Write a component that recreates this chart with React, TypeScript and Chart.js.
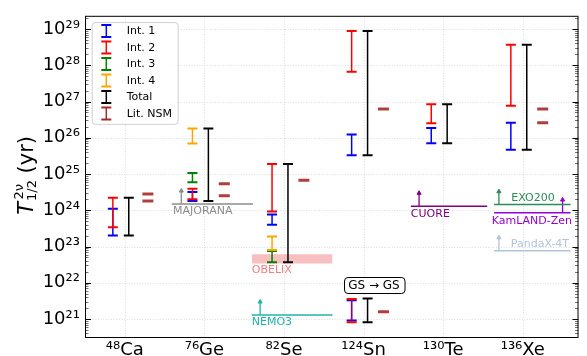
import React, { useEffect, useRef } from 'react';
import { Chart, registerables } from 'chart.js';

Chart.register(...registerables);

// ---------- data ----------
const isotopes = ['⁴⁸Ca', '⁷⁶Ge', '⁸²Se', '¹²⁴Sn', '¹³⁰Te', '¹³⁶Xe'];

const int1Low = [2.0e23, 1.8e24, 4.0e23, 3.3e25, 7.1e25, 4.7e25];
const int1High = [1.1e24, 3.2e24, 7.6e23, 1.24e26, 1.86e26, 2.6e26];
const int2Low = [3.4e23, 2.0e24, 9.3e23, 6.6e27, 2.5e26, 7.7e26];
const int2High = [2.2e24, 3.9e24, 1.9e25, 8.8e28, 8.4e26, 3.7e28];
const int3Low = [null, 5.9e24, 3.7e22, null, null, null];
const int3High = [null, 1.06e25, 7.5e22, null, null, null];
const int4Low = [null, 6.9e25, 8.0e22, null, null, null];
const int4High = [null, 1.8e26, 1.9e23, null, null, null];
const totalLow = [2.0e23, 1.8e24, 3.7e22, 3.3e25, 7.1e25, 4.7e25];
const totalHigh = [2.2e24, 1.8e26, 1.9e25, 8.8e28, 8.4e26, 3.7e28];
const litLow = [1.8e24, 2.5e24, 6.7e24, 6.2e26, null, 2.6e26];
const litHigh = [2.8e24, 5.4e24, null, null, null, 6.2e26];

// 124Sn ground state -> ground state
const gsIsotope = 3;
const gsInt1 = [9.1e20, 3.3e21];
const gsInt2 = [8.2e20, 3.6e21];
const gsTotal = [8.2e20, 3.7e21];
const gsLit = [1.6e21];
const gsLabel = 'GS → GS';
const gsLabelValue = 8.5e21;

const yTickExponents = [21, 22, 23, 24, 25, 26, 27, 28, 29];
const yTickLabels = ['10²¹', '10²²', '10²³', '10²⁴', '10²⁵', '10²⁶', '10²⁷', '10²⁸', '10²⁹'];

const seriesLabels = ['Int. 1', 'Int. 2', 'Int. 3', 'Int. 4', 'Total', 'Lit. NSM'];
const seriesColors = ['#0000ff', '#ff0000', '#008000', '#ffa500', '#000000', '#a52a2a'];

// experimental lower limits
const limitNames = ['MAJORANA', 'NEMO3', 'CUORE', 'EXO200', 'KamLAND-Zen', 'PandaX-4T'];
const limitIsotope = [1, 2, 4, 5, 5, 5];
const limitValues = [1.5e24, 1.3e21, 1.3e24, 1.44e24, 8.5e23, 7.7e22];
const limitColors = ['#8c8c8c', '#20b2aa', '#800080', '#2e8b57', '#9400d3', '#b0c4de'];

const obelixName = 'OBELIX';
const obelixIsotope = 2;
const obelixRange = [3.4e22, 6.1e22];

// ---------- layout (styles / positions) ----------
const FONT = '"DejaVu Sans", sans-serif';
const Y_MIN = Math.pow(10, 20.505);
const Y_MAX = Math.pow(10, 29.364);
const INT_DX = -0.15;
const TOTAL_DX = 0.05;
const LIT_DX = [0.29, 0.25, 0.25, 0.25, 0.25, 0.25];
const limitSpan = [[-0.41, 0.61], [-0.405, 0.609], [-0.406, 0.553], [-0.36, 0.6], [-0.36, 0.6], [-0.36, 0.6]];
const limitArrowDx = [-0.29, -0.3, -0.303, -0.3, 0.5, -0.3];
const limitTextPos = [
  { dx: -0.394, dy: 7.7 },
  { dx: -0.405, dy: 7.4 },
  { dx: -0.406, dy: 7.7 },
  { dx: -0.144, dy: -6.4 },
  { dx: -0.39, dy: 8 },
  { dx: -0.15, dy: -6.6 },
];
const ARROW_FACTOR = Math.pow(10, 0.36);

type P = { x: number; y: number | null };

function intervalPoints(lo: (number | null)[], hi: (number | null)[], dx: number): P[] {
  const pts: P[] = [];
  lo.forEach((l, i) => {
    const h = hi[i];
    if (l == null || h == null) return;
    pts.push({ x: i + dx, y: l }, { x: i + dx, y: h }, { x: i + dx, y: null });
  });
  return pts;
}

function errDataset(label: string, data: P[], color: string, order: number, lineColor?: string) {
  return {
    label,
    data,
    borderColor: lineColor || color,
    backgroundColor: color,
    borderWidth: 1.5,
    pointStyle: 'line',
    pointRadius: 5,
    pointHoverRadius: 5,
    pointBorderWidth: 2,
    pointBorderColor: color,
    pointBackgroundColor: color,
    fill: false,
    tension: 0,
    spanGaps: false,
    order,
  };
}

function litDataset(data: P[]) {
  return {
    label: 'Lit. NSM',
    data,
    showLine: false,
    borderColor: 'rgba(165,42,42,0.9)',
    backgroundColor: 'rgba(165,42,42,0.9)',
    pointStyle: 'line',
    pointRadius: 5.5,
    pointHoverRadius: 5.5,
    pointBorderWidth: 3,
    pointBorderColor: 'rgba(165,42,42,0.9)',
    order: 0,
  };
}

const gridPlugin = {
  id: 'dottedGrid',
  beforeDatasetsDraw(chart: any) {
    const { ctx, chartArea: a, scales } = chart;
    const x = scales.x, y = scales.y;
    ctx.save();
    ctx.strokeStyle = 'rgba(200,200,200,0.6)';
    ctx.lineWidth = 1;
    ctx.setLineDash([1, 1.6]);
    yTickExponents.forEach((e) => {
      const py = Math.round(y.getPixelForValue(Math.pow(10, e))) + 0.5;
      ctx.beginPath();
      ctx.moveTo(a.left, py);
      ctx.lineTo(a.right, py);
      ctx.stroke();
    });
    isotopes.forEach((_, i) => {
      const px = Math.round(x.getPixelForValue(i)) + 0.5;
      ctx.beginPath();
      ctx.moveTo(px, a.top);
      ctx.lineTo(px, a.bottom);
      ctx.stroke();
    });
    ctx.restore();
  },
};

const framePlugin = {
  id: 'frameTicks',
  afterDatasetsDraw(chart: any) {
    const { ctx, chartArea: a, scales } = chart;
    const y = scales.y;
    ctx.save();
    for (let e = 20; e <= 29; e++) {
      for (let k = 2; k <= 9; k++) {
        const v = k * Math.pow(10, e);
        if (v < Y_MIN || v > Y_MAX) continue;
        const py = Math.round(y.getPixelForValue(v)) + 0.5;
        ctx.strokeStyle = 'rgba(0,0,0,0.55)';
        ctx.lineWidth = 1;
        ctx.beginPath();
        ctx.moveTo(a.left, py);
        ctx.lineTo(a.left + 3.5, py);
        ctx.moveTo(a.right, py);
        ctx.lineTo(a.right - 3.5, py);
        ctx.stroke();
      }
    }
    yTickExponents.forEach((e) => {
      const py = Math.round(y.getPixelForValue(Math.pow(10, e))) + 0.5;
      ctx.strokeStyle = '#000';
      ctx.lineWidth = 1;
      ctx.beginPath();
      ctx.moveTo(a.left, py);
      ctx.lineTo(a.left + 6, py);
      ctx.moveTo(a.right, py);
      ctx.lineTo(a.right - 6, py);
      ctx.stroke();
    });
    ctx.strokeStyle = '#000';
    ctx.lineWidth = 1;
    ctx.strokeRect(a.left + 0.5, a.top + 0.5, a.right - a.left - 1, a.bottom - a.top);
    ctx.restore();
  },
};

const annotationPlugin = {
  id: 'annotations',
  afterDatasetsDraw(chart: any) {
    const { ctx, scales } = chart;
    const x = scales.x, y = scales.y;
    ctx.save();
    ctx.font = `11px ${FONT}`;
    ctx.textAlign = 'left';
    ctx.textBaseline = 'middle';
    limitNames.forEach((name, i) => {
      const pos = limitTextPos[i];
      ctx.fillStyle = limitColors[i];
      ctx.fillText(name, x.getPixelForValue(limitIsotope[i] + pos.dx), y.getPixelForValue(limitValues[i]) + pos.dy);
    });
    ctx.fillStyle = '#f08080';
    ctx.fillText(obelixName, x.getPixelForValue(obelixIsotope - 0.405), y.getPixelForValue(obelixRange[0]) + 6.6);

    ctx.font = `12px ${FONT}`;
    ctx.textAlign = 'center';
    const cx = x.getPixelForValue(gsIsotope + 0.13);
    const cy = y.getPixelForValue(gsLabelValue);
    const tw = ctx.measureText(gsLabel).width;
    const bw = tw + 9, bh = 16;
    ctx.beginPath();
    (ctx as any).roundRect(Math.round(cx - bw / 2) + 0.5, Math.round(cy - bh / 2) + 0.5, bw, bh, 3.5);
    ctx.fillStyle = '#fff';
    ctx.fill();
    ctx.strokeStyle = '#000';
    ctx.lineWidth = 1;
    ctx.stroke();
    ctx.fillStyle = '#000';
    ctx.fillText(gsLabel, cx, cy + 0.5);
    ctx.restore();
  },
};

const legendPlugin = {
  id: 'errLegend',
  afterDraw(chart: any) {
    const { ctx } = chart;
    const a = chart.chartArea;
    const bx = a.left + 6.7, by = a.top + 6.3, bw = 86, bh = 101.7;
    ctx.save();
    ctx.beginPath();
    (ctx as any).roundRect(bx + 0.5, by + 0.5, bw, bh, 3);
    ctx.fillStyle = 'rgba(255,255,255,0.8)';
    ctx.fill();
    ctx.strokeStyle = '#d0d0d0';
    ctx.lineWidth = 1;
    ctx.stroke();
    ctx.font = `11px ${FONT}`;
    ctx.textBaseline = 'middle';
    ctx.textAlign = 'left';
    seriesLabels.forEach((lab, i) => {
      const ry = by + 9 + i * 16.5;
      const ix = bx + 14.6;
      const col = seriesColors[i];
      ctx.strokeStyle = col;
      ctx.lineWidth = 1.5;
      ctx.beginPath();
      ctx.moveTo(ix, ry - 6);
      ctx.lineTo(ix, ry + 6);
      ctx.stroke();
      ctx.lineWidth = 2;
      ctx.beginPath();
      ctx.moveTo(ix - 5, ry - 6);
      ctx.lineTo(ix + 5, ry - 6);
      ctx.moveTo(ix - 5, ry + 6);
      ctx.lineTo(ix + 5, ry + 6);
      ctx.stroke();
      ctx.fillStyle = '#000';
      ctx.fillText(lab, bx + 35, ry + 0.5);
    });
    ctx.restore();
  },
};

const titlePlugin = {
  id: 'yTitle',
  afterDraw(chart: any) {
    const { ctx } = chart;
    const a = chart.chartArea;
    ctx.save();
    ctx.translate(33, (a.top + a.bottom) / 2 - 1);
    ctx.rotate(-Math.PI / 2);
    ctx.fillStyle = '#000';
    ctx.textBaseline = 'alphabetic';
    ctx.textAlign = 'left';
    const big = `italic 21px ${FONT}`;
    const reg = `21px ${FONT}`;
    const scr = `13px ${FONT}`;
    ctx.font = big;
    const wT = ctx.measureText('T').width;
    ctx.font = scr;
    const wSup = ctx.measureText('2ν').width;
    const wSub = ctx.measureText('1/2').width;
    ctx.font = reg;
    const wRest = ctx.measureText(' (yr)').width;
    const wScr = Math.max(wSup, wSub);
    const total = wT + 1 + wScr + wRest;
    let px = -total / 2;
    ctx.font = big;
    ctx.fillText('T', px, 0);
    px += wT + 1;
    ctx.font = scr;
    ctx.fillText('2ν', px + 1.5, -10);
    ctx.fillText('1/2', px, 3);
    px += wScr;
    ctx.font = reg;
    ctx.fillText(' (yr)', px, 0);
    ctx.restore();
  },
};

export default function App() {
  const canvasRef = useRef<HTMLCanvasElement | null>(null);

  useEffect(() => {
    document.body.style.margin = '0';
    const canvas = canvasRef.current;
    if (!canvas) return;

    const datasets: any[] = [];
    datasets.push(errDataset(seriesLabels[1], intervalPoints(int2Low, int2High, INT_DX), seriesColors[1], 1));
    datasets.push(errDataset(seriesLabels[3], intervalPoints(int4Low, int4High, INT_DX), seriesColors[3], 2));
    datasets.push(errDataset(seriesLabels[2], intervalPoints(int3Low, int3High, INT_DX), seriesColors[2], 3));
    datasets.push(errDataset(seriesLabels[0], intervalPoints(int1Low, int1High, INT_DX), seriesColors[0], 4));
    datasets.push(errDataset(seriesLabels[4], intervalPoints(totalLow, totalHigh, TOTAL_DX), seriesColors[4], 5));
    const litPts: P[] = [];
    litLow.forEach((v, i) => { if (v != null) litPts.push({ x: i + LIT_DX[i], y: v }); });
    litHigh.forEach((v, i) => { if (v != null) litPts.push({ x: i + LIT_DX[i], y: v }); });
    gsLit.forEach((v) => litPts.push({ x: gsIsotope + LIT_DX[gsIsotope], y: v }));
    datasets.push(litDataset(litPts));
    const gx = gsIsotope + INT_DX;
    datasets.push(errDataset('GS Int. 2', [{ x: gx, y: gsInt2[0] }, { x: gx, y: gsInt2[1] }], seriesColors[1], 1, 'rgba(255,0,0,0.6)'));
    datasets.push(errDataset('GS Int. 1', [{ x: gx, y: gsInt1[0] }, { x: gx, y: gsInt1[1] }], seriesColors[0], 4));
    const gtx = gsIsotope + TOTAL_DX;
    datasets.push(errDataset('GS Total', [{ x: gtx, y: gsTotal[0] }, { x: gtx, y: gsTotal[1] }], seriesColors[4], 5));

    limitNames.forEach((name, i) => {
      const iso = limitIsotope[i];
      const v = limitValues[i];
      const col = limitColors[i];
      datasets.push({
        label: name,
        data: [{ x: iso + limitSpan[i][0], y: v }, { x: iso + limitSpan[i][1], y: v }],
        borderColor: col,
        borderWidth: 1.5,
        pointRadius: 0,
        pointHoverRadius: 0,
        fill: false,
        order: 8,
      });
      const ax = iso + limitArrowDx[i];
      datasets.push({
        label: name + ' arrow',
        data: [{ x: ax, y: v }, { x: ax, y: v * ARROW_FACTOR }],
        borderColor: col,
        borderWidth: 1.3,
        pointStyle: 'triangle',
        pointRadius: [0, 2.4],
        pointHoverRadius: [0, 2.4],
        pointBorderWidth: 1,
        pointBorderColor: col,
        pointBackgroundColor: col,
        fill: false,
        order: 8,
      });
    });

    const ox0 = obelixIsotope - 0.405, ox1 = obelixIsotope + 0.609;
    datasets.push({
      label: obelixName,
      data: [{ x: ox0, y: obelixRange[1] }, { x: ox1, y: obelixRange[1] }],
      borderColor: 'rgba(0,0,0,0)',
      borderWidth: 0.01,
      backgroundColor: 'rgba(240,128,128,0.5)',
      pointRadius: 0,
      pointHoverRadius: 0,
      fill: '+1',
      order: 9,
    });
    datasets.push({
      label: obelixName + ' low',
      data: [{ x: ox0, y: obelixRange[0] }, { x: ox1, y: obelixRange[0] }],
      borderColor: 'rgba(0,0,0,0)',
      borderWidth: 0.01,
      pointRadius: 0,
      pointHoverRadius: 0,
      fill: false,
      order: 9,
    });

    Chart.defaults.font.family = FONT;

    const chart = new Chart(canvas, {
      type: 'line',
      data: { datasets },
      options: {
        animation: false,
        responsive: false,
        events: [],
        layout: { padding: { left: 0, right: 3, top: 6, bottom: 0 } },
        plugins: {
          legend: { display: false },
          tooltip: { enabled: false },
          title: { display: false },
        },
        scales: {
          x: {
            type: 'linear',
            min: -0.5,
            max: 5.7,
            grid: { display: false, drawTicks: false },
            border: { display: false },
            afterBuildTicks: (s: any) => {
              s.ticks = isotopes.map((_, i) => ({ value: i }));
            },
            afterFit: (s: any) => {
              s.height = 19;
            },
            ticks: {
              autoSkip: false,
              maxRotation: 0,
              minRotation: 0,
              padding: 3,
              color: '#000',
              font: { family: FONT, size: 18 },
              callback: (v: any) => isotopes[Math.round(Number(v))] ?? '',
            },
          },
          y: {
            type: 'logarithmic',
            min: Y_MIN,
            max: Y_MAX,
            grid: { display: false, drawTicks: false },
            border: { display: false },
            afterBuildTicks: (s: any) => {
              s.ticks = yTickExponents.map((e) => ({ value: Math.pow(10, e) }));
            },
            afterFit: (s: any) => {
              s.width = 85;
            },
            ticks: {
              autoSkip: false,
              padding: 5,
              color: '#000',
              font: { family: FONT, size: 18 },
              callback: (_v: any, i: number) => yTickLabels[i],
            },
          },
        },
      } as any,
      plugins: [gridPlugin, framePlugin, annotationPlugin, legendPlugin, titlePlugin],
    });

    return () => chart.destroy();
  }, []);

  return (
    <div style={{ position: 'absolute', left: 0, top: 0, width: 587, height: 356 }}>
      <canvas ref={canvasRef} width={587} height={356} style={{ display: 'block', width: 587, height: 356 }} />
    </div>
  );
}
